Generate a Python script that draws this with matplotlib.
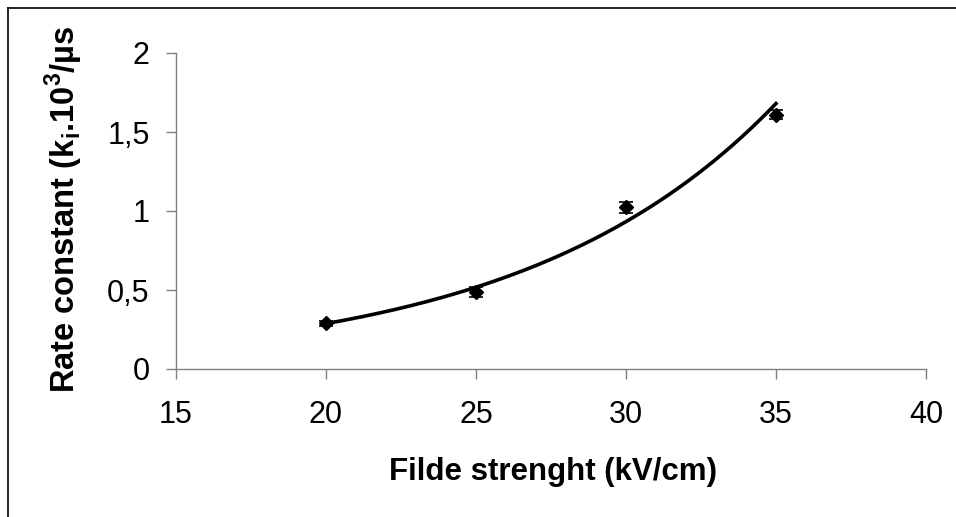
import numpy as np
import matplotlib
matplotlib.use("Agg")
import matplotlib.pyplot as plt
from matplotlib.lines import Line2D

plt.rcParams['font.family'] = ['Liberation Sans', 'DejaVu Sans']
plt.rcParams['mathtext.fontset'] = 'custom'
plt.rcParams['mathtext.rm'] = 'Liberation Sans'
plt.rcParams['mathtext.bf'] = 'Liberation Sans:bold'

field = [20, 25, 30, 35]
rate = [0.29, 0.487, 1.025, 1.61]
rate_err = [0.015, 0.03, 0.035, 0.03]
x_ticks = [15, 20, 25, 30, 35, 40]
y_ticks = [0, 0.5, 1, 1.5, 2]
y_tick_labels = ["0", "0,5", "1", "1,5", "2"]

fig = plt.figure(figsize=(9.56, 5.17), dpi=100)
ax = fig.add_axes([176/956, 1-369/517, 750/956, 316/517])

# Exponential trendline fitted to the data (as Excel does)
b, ln_a = np.polyfit(field, np.log(rate), 1)
xs = np.linspace(field[0], field[-1], 200)
ax.plot(xs, np.exp(ln_a + b*xs), color='black', lw=2.6, zorder=2)

ax.errorbar(field, rate, yerr=rate_err, fmt='D', color='black', ms=7.5,
            ecolor='black', elinewidth=1.2, capsize=5, capthick=1.2, zorder=3)

ax.set_xlim(15, 40)
ax.set_ylim(0, 2)
ax.set_xticks(x_ticks)
ax.set_xticklabels([str(t) for t in x_ticks])
ax.set_yticks(y_ticks)
ax.set_yticklabels(y_tick_labels)
for s in ['top', 'right']:
    ax.spines[s].set_visible(False)
for s in ['left', 'bottom']:
    ax.spines[s].set_color('#808080')
    ax.spines[s].set_linewidth(1.0)
ax.tick_params(axis='both', colors='#808080', labelcolor='black', length=7,
               width=1.0, labelsize=22, direction='out')
ax.tick_params(axis='y', pad=12)
ax.tick_params(axis='x', pad=15)

fig.text(553/956, 1-472/517, "Filde strenght (kV/cm)", ha='center', va='center',
         fontsize=22.5, fontweight='bold')
fig.text(64/956, 1-209/517, r"Rate constant (k$_\mathbf{i}$.10$^\mathbf{3}$/µs",
         ha='center', va='center', rotation=90, fontsize=23.5, fontweight='bold')

# outer frame (top and left visible)
fig.add_artist(Line2D([8/956, 8/956], [0, 1-8/517], transform=fig.transFigure,
                      color='black', lw=1.2))
fig.add_artist(Line2D([8/956, 1], [1-8/517, 1-8/517], transform=fig.transFigure,
                      color='black', lw=1.2))

fig.savefig("out.png", dpi=100)
